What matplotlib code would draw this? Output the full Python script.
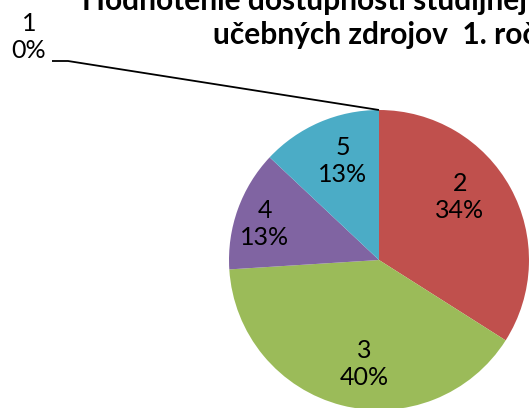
import matplotlib.pyplot as plt
import numpy as np

categories = ["1", "2", "3", "4", "5"]
shares = [0, 34, 40, 13, 13]
colors = ["#4F81BD", "#C0504D", "#9BBB59", "#8064A2", "#4BACC6"]
title_lines = ["Hodnotenie dostupnosti študijnej a", "učebných zdrojov  1. ročník"]

plt.rcParams['font.family'] = ['Lato', 'DejaVu Sans']

fig = plt.figure(figsize=(5.29, 4.08), dpi=100)
ax = fig.add_axes([0, 0, 1, 1])

# pixel -> data helper (pie radius = 150 px, centre at px (379, 260))
def px(x, y):
    return (x - 379) / 150.0, (260 - y) / 150.0

wedges, _ = ax.pie(shares, colors=colors, startangle=90, counterclock=False,
                   radius=1.0, wedgeprops=dict(linewidth=0))

# data labels (Excel "best fit" positions)
label_px = [(29, 37), (460, 197), (364, 364), (265, 224), (343, 161)]
for cat, val, (lx, ly) in zip(categories, shares, label_px):
    x, y = px(lx, ly)
    ax.text(x, y, f"{cat}\n{val}%", ha='center', va='center', fontsize=18,
            linespacing=1.25, color='black')

# leader line for the empty slice 1
w = wedges[0]
ang = np.deg2rad(w.theta1)
tip = (np.cos(ang) * w.r, np.sin(ang) * w.r)
k0 = px(52, 61)
k1 = px(68, 61)
ax.plot([k0[0], k1[0], tip[0]], [k0[1], k1[1], tip[1]], color='black', lw=1.3,
        solid_capstyle='butt')

tx, ty = px(82, 10)
ax.text(tx, ty, title_lines[0], ha='left', va='baseline', fontsize=21.5, fontweight='bold')
tx, ty = px(213, 44)
ax.text(tx, ty, title_lines[1], ha='left', va='baseline', fontsize=21.5, fontweight='bold')

ax.set_xlim(-379 / 150.0, (529 - 379) / 150.0)
ax.set_ylim(-(408 - 260) / 150.0, 260 / 150.0)
ax.set_aspect('auto')
ax.axis('off')

fig.savefig("out.png", dpi=100)
